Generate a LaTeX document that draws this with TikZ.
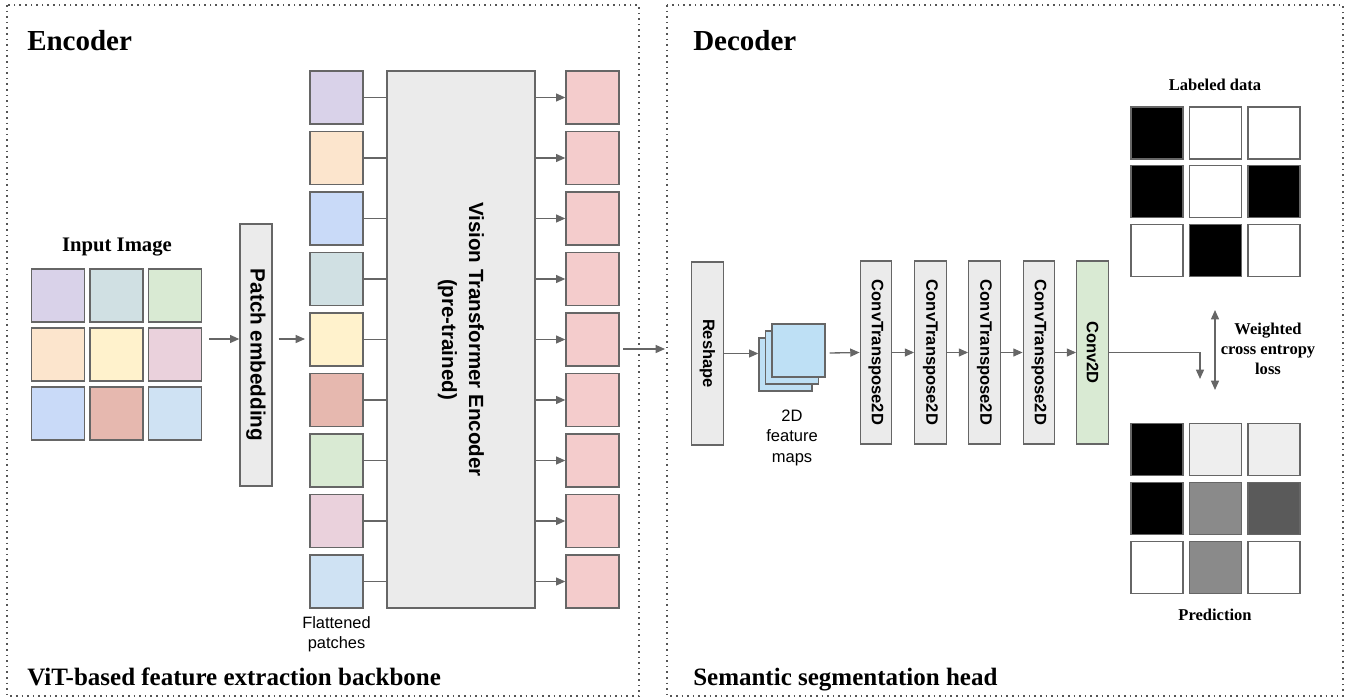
\documentclass[tikz,border=0pt]{standalone}
\usepackage{fontspec}
\setmainfont{Liberation Sans}
\newfontfamily\tnr{Liberation Serif}
\usetikzlibrary{arrows.meta,calc}
\definecolor{bd}{HTML}{666666}
\definecolor{frm}{HTML}{555555}
\definecolor{lgray}{HTML}{EBEBEB}
\definecolor{cpurple}{HTML}{D9D2E9}
\definecolor{ccyan}{HTML}{D0E0E3}
\definecolor{cgreen}{HTML}{D9EAD3}
\definecolor{cpeach}{HTML}{FCE5CD}
\definecolor{cyellow}{HTML}{FFF2CC}
\definecolor{cmagenta}{HTML}{EAD1DC}
\definecolor{cblue}{HTML}{C9DAF8}
\definecolor{cred}{HTML}{E6B8AF}
\definecolor{clblue}{HTML}{CFE2F3}
\definecolor{cout}{HTML}{F4CCCC}
\definecolor{cfm}{HTML}{BEE0F5}
\definecolor{pl}{HTML}{EEEEEE}
\definecolor{pm}{HTML}{8A8A8A}
\definecolor{pd}{HTML}{5A5A5A}
\begin{document}
\begin{tikzpicture}[x=0.75pt,y=-0.75pt,
  cellbox/.style={draw=bd, line width=1pt, minimum size=39.75pt, inner sep=0pt},
  gcell/.style={draw=bd, line width=1pt, minimum size=39pt, inner sep=0pt},
  gbox/.style={draw=bd, fill=lgray, line width=1pt, inner sep=0pt},
  vbox/.style={gbox, minimum width=23.6pt, minimum height=137.25pt},
  vtext/.style={rotate=-90, font=\bfseries\fontsize{12.4}{15}\selectfont, inner sep=0pt},
  conn/.style={draw=bd, line width=1pt},
  arr/.style={draw=bd, line width=1pt, -{Triangle[length=7pt,width=6pt]}},
  darr/.style={draw=bd, line width=1pt, {Triangle[length=7pt,width=6pt]}-{Triangle[length=7pt,width=6pt]}},
  frame/.style={draw=frm, line width=1.2pt, dash pattern=on 1.2pt off 3pt},
  ttl/.style={anchor=base west, font=\tnr\bfseries\fontsize{21.75}{26}\selectfont, inner sep=0pt},
  btl/.style={anchor=base west, font=\tnr\bfseries\fontsize{18.75}{22}\selectfont, inner sep=0pt},
  slab/.style={font=\tnr\bfseries\fontsize{12.4}{15}\selectfont, align=center, inner sep=0pt},
  sans/.style={font=\fontsize{12.3}{15.3}\selectfont, align=center, inner sep=0pt}
]
\useasboundingbox (0,0) rectangle (1350,700);

% frames
\draw[frame] (7,5) rectangle (639,696);
\draw[frame] (667,5) rectangle (1343,696);

% titles
\node[ttl] (enc) at (27,50) {Encoder};
\node[ttl] (dec) at (693,50) {Decoder};
\node[btl] (encb) at (27,685) {ViT-based feature extraction backbone};
\node[btl] (decb) at (693,685) {Semantic segmentation head};

% input image
\node[font=\tnr\bfseries\fontsize{15.5}{18}\selectfont, inner sep=0pt] (inlab) at (117,247) {Input Image};
\node[cellbox, fill=cpurple] (in11) at (58,295.5) {};
\node[cellbox, fill=ccyan] (in12) at (116.5,295.5) {};
\node[cellbox, fill=cgreen] (in13) at (175,295.5) {};
\node[cellbox, fill=cpeach] (in21) at (58,354.5) {};
\node[cellbox, fill=cyellow] (in22) at (116.5,354.5) {};
\node[cellbox, fill=cmagenta] (in23) at (175,354.5) {};
\node[cellbox, fill=cblue] (in31) at (58,413.5) {};
\node[cellbox, fill=cred] (in32) at (116.5,413.5) {};
\node[cellbox, fill=clblue] (in33) at (175,413.5) {};

% patch embedding
\node[gbox, minimum width=24pt, minimum height=196.5pt] (pe) at (256,355) {};
\node[rotate=-90, font=\bfseries\fontsize{15.5}{18}\selectfont, inner sep=0pt] (pet) at (pe) {Patch embedding};
\coordinate (a1s) at (209,339);
\coordinate (a2e) at (305,339);
\draw[arr] (a1s) -- (a1s -| pe.west);
\draw[arr] (pe.east |- a2e) ++(6,0) -- (a2e);

% ViT encoder
\node[gbox, minimum width=111pt, minimum height=402.75pt] (vit) at (461,339.5) {};
\node[rotate=-90, align=center, font=\bfseries\fontsize{15.4}{20.25}\selectfont, inner sep=0pt] (vitt) at (vit) {Vision Transformer Encoder\\(pre-trained)};

% flattened patches and outputs
\foreach \c [count=\i] in {cpurple,cpeach,cblue,ccyan,cyellow,cred,cgreen,cmagenta,clblue} {
  \node[cellbox, fill=\c] (p\i) at (336.5,{97.5+60.5*(\i-1)}) {};
  \node[cellbox, fill=cout] (o\i) at (592.5,{97.5+60.5*(\i-1)}) {};
  \draw[conn] (p\i.east) -- (p\i.east -| vit.west);
  \draw[arr] (o\i.west -| vit.east) -- (o\i.west);
}
\node[sans] (flat) at (336.5,634) {Flattened\\patches};

% encoder -> decoder
\coordinate (encout) at (623,349);
\coordinate (decin) at (665,349);
\draw[arr] (encout) -- (decin);

% decoder blocks
\node[vbox] (rs) at (707.5,353.5) {};
\node[vtext] (rst) at (rs) {Reshape};
\node[cellbox, fill=cfm] (fm3) at (785.5,364.5) {};
\node[cellbox, fill=cfm] (fm2) at (792,357.5) {};
\node[cellbox, fill=cfm] (fm1) at (798.5,350.5) {};
\node[sans, font=\fontsize{12.4}{15.4}\selectfont] (fmt) at (792,437.5) {2D\\feature\\maps};
\draw[arr] (rs.east) -- (rs.east -| fm3.west);

\node[vbox] (ct1) at (876,352.5) {};
\node[vbox] (ct2) at (930.5,352.5) {};
\node[vbox] (ct3) at (984.5,352.5) {};
\node[vbox] (ct4) at (1039,352.5) {};
\node[vbox, fill=cgreen] (c2d) at (1092.5,352.5) {};
\foreach \n in {ct1,ct2,ct3,ct4} { \node[vtext] at (\n) {ConvTranspose2D}; }
\node[vtext] (c2dt) at (c2d) {Conv2D};

\draw[arr] ($(fm1.east)+(4,2.5)$) -- (ct1.west);
\draw[arr] (ct1) ++(0,0) (ct1.east) -- (ct2.west);
\draw[arr] (ct2.east) -- (ct3.west);
\draw[arr] (ct3.east) -- (ct4.west);
\draw[arr] (ct4.east) -- (c2d.west);

% output path
\coordinate (pdn) at (1200,379);
\draw[arr] (c2d.east) -- (c2d.east -| pdn) -- (pdn);
\coordinate (la) at (1215,310);
\coordinate (lb) at (1215,390);
\draw[darr] (la) -- (lb);
\node[slab] (loss) at (1268,349) {Weighted\\cross entropy\\loss};

% labeled data
\node[slab] (ldl) at (1215,85) {Labeled data};
\node[gcell, fill=black] (l11) at (1157,133) {};
\node[gcell, fill=white] (l12) at (1215.5,133) {};
\node[gcell, fill=white] (l13) at (1274,133) {};
\node[gcell, fill=black] (l21) at (1157,191.5) {};
\node[gcell, fill=white] (l22) at (1215.5,191.5) {};
\node[gcell, fill=black] (l23) at (1274,191.5) {};
\node[gcell, fill=white] (l31) at (1157,250.5) {};
\node[gcell, fill=black] (l32) at (1215.5,250.5) {};
\node[gcell, fill=white] (l33) at (1274,250.5) {};

% prediction
\node[gcell, fill=black] (q11) at (1157,449.5) {};
\node[gcell, fill=pl] (q12) at (1215.5,449.5) {};
\node[gcell, fill=pl] (q13) at (1274,449.5) {};
\node[gcell, fill=black] (q21) at (1157,508.5) {};
\node[gcell, fill=pm] (q22) at (1215.5,508.5) {};
\node[gcell, fill=pd] (q23) at (1274,508.5) {};
\node[gcell, fill=white] (q31) at (1157,567.5) {};
\node[gcell, fill=pm] (q32) at (1215.5,567.5) {};
\node[gcell, fill=white] (q33) at (1274,567.5) {};
\node[slab] (prl) at (1215,615) {Prediction};
\end{tikzpicture}
\end{document}
